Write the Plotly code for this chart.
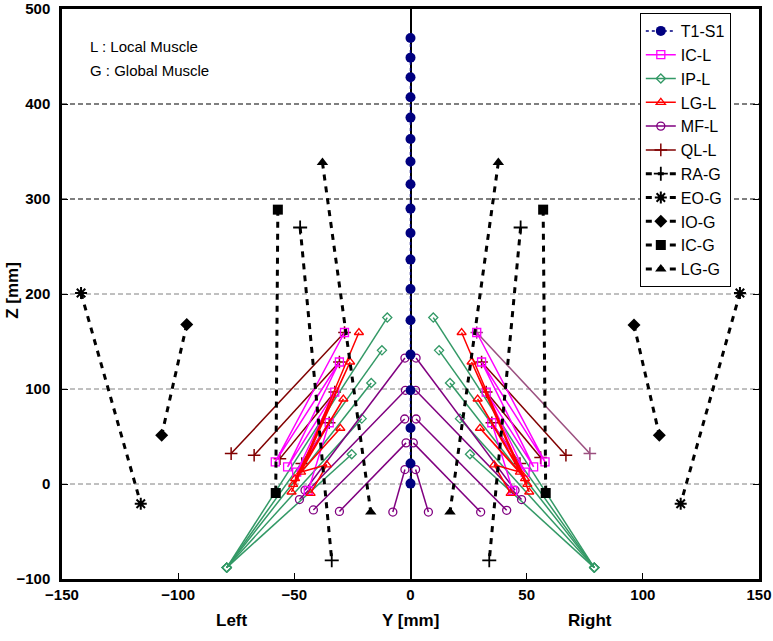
import plotly.graph_objects as go

# ---------------- data ----------------
# Spine T1-S1 (Y = 0)
T1S1_Y = [0] * 18
T1S1_Z = [469.5, 448.8, 428.1, 407.1, 385.7, 363.2, 339.4, 315.5, 289.9,
          264.2, 236.2, 205.3, 172.3, 136.2, 98.6, 58.9, 21.5, 0.4]

# IP-L (fan from a base point)
IPL_LEFT_TOP_Y = [-10.0, -12.3, -16.9, -21.0, -25.3]
IPL_LEFT_TOP_Z = [175.2, 140.7, 106.3, 68.8, 31.3]
IPL_LEFT_BASE = [-79.1, -88.0]
IPL_RIGHT_TOP_Y = [9.8, 12.3, 17.0, 21.3, 25.6]
IPL_RIGHT_TOP_Z = [175.2, 140.7, 106.3, 68.8, 31.3]
IPL_RIGHT_BASE = [79.1, -88.0]

# MF-L
MFL_LEFT_TOP_Y = [-2.4, -2.2, -2.5, -1.9, -2.4]
MFL_LEFT_TOP_Z = [132.6, 98.6, 68.4, 43.3, 15.2]
MFL_LEFT_BOT_Y = [-45.4, -47.8, -41.8, -30.6, -7.6]
MFL_LEFT_BOT_Z = [-6.6, -16.4, -27.3, -28.9, -29.5]
MFL_RIGHT_TOP_Y = [2.4, 2.2, 2.4, 1.2, 2.2]
MFL_RIGHT_TOP_Z = [132.6, 98.6, 68.4, 43.3, 15.2]
MFL_RIGHT_BOT_Y = [45.0, 47.8, 41.4, 30.2, 7.7]
MFL_RIGHT_BOT_Z = [-6.6, -16.4, -27.7, -29.5, -29.5]

# LG-L
LGL_LEFT_TOP_Y = [-22.2, -26.0, -28.9, -30.2, -36.0]
LGL_LEFT_TOP_Z = [159.5, 128.4, 89.5, 58.7, 20.2]
LGL_LEFT_BOT_Y = [-51.2, -50.5, -49.7, -47.1, -43.0]
LGL_LEFT_BOT_Z = [-8.4, -0.3, 5.7, 12.6, -9.8]
LGL_RIGHT_TOP_Y = [22.0, 26.3, 28.9, 29.9, 36.0]
LGL_RIGHT_TOP_Z = [159.5, 128.4, 89.5, 58.7, 20.2]
LGL_RIGHT_BOT_Y = [51.1, 50.3, 49.3, 47.1, 43.1]
LGL_RIGHT_BOT_Z = [-8.4, -0.3, 5.7, 12.6, -9.8]

# IC-L
ICL_LEFT_TOP_Y = [-28.4, -30.6, -32.6, -35.0]
ICL_LEFT_TOP_Z = [159.5, 128.4, 96.8, 64.5]
ICL_LEFT_BOT_Y = [-58.2, -52.9, -49.0, -44.0]
ICL_LEFT_BOT_Z = [23.2, 18.0, 12.6, -7.0]
ICL_RIGHT_TOP_Y = [28.5, 30.6, 32.6, 35.0]
ICL_RIGHT_TOP_Z = [159.5, 128.4, 96.8, 64.5]
ICL_RIGHT_BOT_Y = [57.9, 53.0, 49.3, 44.0]
ICL_RIGHT_BOT_Z = [23.2, 18.0, 12.6, -7.0]

# QL-L
QLL_LEFT_TOP_Y = [-28.4, -30.6, -32.6, -35.0]
QLL_LEFT_TOP_Z = [159.5, 128.4, 96.8, 64.5]
QLL_LEFT_BOT_Y = [-77.2, -67.3, -56.2, -46.8]
QLL_LEFT_BOT_Z = [32.0, 30.2, 26.7, 21.5]
QLL_RIGHT_TOP_Y = [30.6, 32.6, 35.0]
QLL_RIGHT_TOP_Z = [128.4, 96.8, 64.5]
QLL_RIGHT_BOT_Y = [66.9, 56.0, 47.1]
QLL_RIGHT_BOT_Z = [30.2, 27.8, 21.5]
QLL_RIGHT_OUTER_Y = [28.5, 77.2]
QLL_RIGHT_OUTER_Z = [159.5, 32.0]

# Global muscles: [left top, left bottom, right top, right bottom]
RAG_Y = [-47.5, -33.9, 47.4, 33.9]
RAG_Z = [270.0, -80.3, 270.0, -80.3]
EOG_Y = [-141.8, -116.1, 141.8, 116.3]
EOG_Z = [201.0, -20.7, 201.0, -20.7]
IOG_Y = [-96.3, -107.1, 96.2, 107.1]
IOG_Z = [168.0, 51.3, 167.5, 51.3]
ICG_Y = [-57.1, -58.0, 57.1, 58.2]
ICG_Z = [288.8, -9.5, 288.8, -9.5]
LGG_Y = [-37.9, -17.1, 37.8, 17.0]
LGG_Z = [338.3, -29.5, 338.3, -29.5]

X_TICKS = [-150, -100, -50, 0, 50, 100, 150]
Z_TICKS = [-100, 0, 100, 200, 300, 400, 500]
GRAY_GRID = [0, 100, 200]
BLACK_GRID = [300, 400]


# ---------------- helpers ----------------
def segments(ay, az, by, bz):
    xs, ys = [], []
    for a1, a2, b1, b2 in zip(ay, az, by, bz):
        xs += [a1, b1, None]
        ys += [a2, b2, None]
    return xs, ys


def zigzag(ay, az, by, bz):
    xs, ys = [], []
    for a1, a2, b1, b2 in zip(ay, az, by, bz):
        xs += [a1, b1]
        ys += [a2, b2]
    return xs, ys


def join(*parts):
    xs, ys = [], []
    for px, py in parts:
        if xs:
            xs.append(None)
            ys.append(None)
        xs += px
        ys += py
    return xs, ys


def pairs(yv, zv):
    return [yv[0], yv[1], None, yv[2], yv[3]], [zv[0], zv[1], None, zv[2], zv[3]]


NAVY = "#000080"
MAGENTA = "#FF00FF"
GREEN = "#339966"
RED = "#FF0000"
PURPLE = "#800080"
DKRED = "#800000"
MAUVE = "#9B4F7F"

fig = go.Figure()

n = len(IPL_LEFT_TOP_Y)
ipx, ipz = join(
    segments(IPL_LEFT_TOP_Y, IPL_LEFT_TOP_Z, [IPL_LEFT_BASE[0]] * n, [IPL_LEFT_BASE[1]] * n),
    segments(IPL_RIGHT_TOP_Y, IPL_RIGHT_TOP_Z, [IPL_RIGHT_BASE[0]] * n, [IPL_RIGHT_BASE[1]] * n),
)
mfx, mfz = join(
    segments(MFL_LEFT_TOP_Y, MFL_LEFT_TOP_Z, MFL_LEFT_BOT_Y, MFL_LEFT_BOT_Z),
    segments(MFL_RIGHT_TOP_Y, MFL_RIGHT_TOP_Z, MFL_RIGHT_BOT_Y, MFL_RIGHT_BOT_Z),
)
lgx, lgz = join(
    zigzag(LGL_LEFT_TOP_Y, LGL_LEFT_TOP_Z, LGL_LEFT_BOT_Y, LGL_LEFT_BOT_Z),
    zigzag(LGL_RIGHT_TOP_Y, LGL_RIGHT_TOP_Z, LGL_RIGHT_BOT_Y, LGL_RIGHT_BOT_Z),
)
icx, icz = join(
    zigzag(ICL_LEFT_TOP_Y, ICL_LEFT_TOP_Z, ICL_LEFT_BOT_Y, ICL_LEFT_BOT_Z),
    zigzag(ICL_RIGHT_TOP_Y, ICL_RIGHT_TOP_Z, ICL_RIGHT_BOT_Y, ICL_RIGHT_BOT_Z),
)
qlx, qlz = join(
    segments(QLL_LEFT_TOP_Y, QLL_LEFT_TOP_Z, QLL_LEFT_BOT_Y, QLL_LEFT_BOT_Z),
    segments(QLL_RIGHT_TOP_Y, QLL_RIGHT_TOP_Z, QLL_RIGHT_BOT_Y, QLL_RIGHT_BOT_Z),
)

dash_style = dict(color="black", width=3, dash="6px,6px")

fig.add_trace(go.Scatter(x=qlx, y=qlz, name="QL-L", legendrank=6, mode="lines+markers",
                         line=dict(color=DKRED, width=1.5),
                         marker=dict(symbol="cross-thin-open", size=9, line=dict(color=DKRED, width=1.5))))
fig.add_trace(go.Scatter(x=QLL_RIGHT_OUTER_Y, y=QLL_RIGHT_OUTER_Z, showlegend=False, mode="lines+markers",
                         line=dict(color=MAUVE, width=1.5),
                         marker=dict(symbol="cross-thin-open", size=9, line=dict(color=MAUVE, width=1.5))))
fig.add_trace(go.Scatter(x=ipx, y=ipz, name="IP-L", legendrank=3, mode="lines+markers",
                         line=dict(color=GREEN, width=1.5),
                         marker=dict(symbol="diamond-open", size=7, color=GREEN, line=dict(width=1.3))))
fig.add_trace(go.Scatter(x=mfx, y=mfz, name="MF-L", legendrank=5, mode="lines+markers",
                         line=dict(color=PURPLE, width=1.5),
                         marker=dict(symbol="circle-open", size=8, color=PURPLE, line=dict(width=1.3))))
fig.add_trace(go.Scatter(x=icx, y=icz, name="IC-L", legendrank=2, mode="lines+markers",
                         line=dict(color=MAGENTA, width=1.5),
                         marker=dict(symbol="square-open", size=8, color=MAGENTA, line=dict(width=1.3))))
fig.add_trace(go.Scatter(x=lgx, y=lgz, name="LG-L", legendrank=4, mode="lines+markers",
                         line=dict(color=RED, width=1.5),
                         marker=dict(symbol="triangle-up-open", size=8, color=RED, line=dict(width=1.3))))

gx, gz = pairs(RAG_Y, RAG_Z)
fig.add_trace(go.Scatter(x=gx, y=gz, name="RA-G", legendrank=7, mode="lines+markers", line=dash_style,
                         marker=dict(symbol="cross-thin-open", size=10, line=dict(color="black", width=1.8))))
gx, gz = pairs(EOG_Y, EOG_Z)
fig.add_trace(go.Scatter(x=gx, y=gz, name="EO-G", legendrank=8, mode="lines+markers", line=dash_style,
                         marker=dict(symbol="asterisk-open", size=10, line=dict(color="black", width=2))))
gx, gz = pairs(IOG_Y, IOG_Z)
fig.add_trace(go.Scatter(x=gx, y=gz, name="IO-G", legendrank=9, mode="lines+markers", line=dash_style,
                         marker=dict(symbol="diamond", size=10, color="black")))
gx, gz = pairs(ICG_Y, ICG_Z)
fig.add_trace(go.Scatter(x=gx, y=gz, name="IC-G", legendrank=10, mode="lines+markers", line=dash_style,
                         marker=dict(symbol="square", size=10, color="black")))
gx, gz = pairs(LGG_Y, LGG_Z)
fig.add_trace(go.Scatter(x=gx, y=gz, name="LG-G", legendrank=11, mode="lines+markers", line=dash_style,
                         marker=dict(symbol="triangle-up", size=10, color="black")))

# spine drawn last so its dots sit on top
fig.add_trace(go.Scatter(x=T1S1_Y, y=T1S1_Z, name="T1-S1", legendrank=1, mode="lines+markers",
                         line=dict(color=NAVY, width=1.5, dash="dot"),
                         marker=dict(symbol="circle", size=10, color=NAVY)))

shapes = []
for g in GRAY_GRID:
    shapes.append(dict(type="line", xref="paper", x0=0, x1=1, yref="y", y0=g, y1=g, layer="below",
                       line=dict(color="#808080", width=1, dash="5px,3px")))
for g in BLACK_GRID:
    shapes.append(dict(type="line", xref="paper", x0=0, x1=1, yref="y", y0=g, y1=g, layer="below",
                       line=dict(color="black", width=1.2, dash="5px,3px")))

FONT = "Liberation Sans Narrow, Arial Narrow, Liberation Sans, Arial, sans-serif"
ann_font = dict(family=FONT, size=17, color="black", weight="bold")

fig.update_layout(
    width=773, height=641,
    margin=dict(l=62, r=14, t=9, b=62),
    paper_bgcolor="white", plot_bgcolor="white",
    shapes=shapes,
    showlegend=True,
    legend=dict(x=0.829, y=0.993, xanchor="left", yanchor="top",
                bgcolor="white", bordercolor="black", borderwidth=1,
                font=dict(family="Liberation Sans Narrow, Arial Narrow, Arial, sans-serif", size=16, color="black"),
                tracegroupgap=0, itemwidth=30),
    xaxis=dict(range=[-150, 150], tickvals=X_TICKS, showgrid=False, automargin=False,
               zeroline=True, zerolinecolor="black", zerolinewidth=1.5,
               showline=True, linecolor="black", linewidth=2.5, mirror=True,
               ticks="inside", ticklen=6, tickcolor="black",
               tickfont=dict(family=FONT, size=15, color="black", weight="bold")),
    yaxis=dict(range=[-100, 500], tickvals=Z_TICKS, showgrid=False, zeroline=False, automargin=False,
               showline=True, linecolor="black", linewidth=2.5, mirror="ticks",
               ticks="inside", ticklen=6, tickcolor="black", ticklabelstandoff=6,
               tickfont=dict(family=FONT, size=15, color="black", weight="bold")),
    annotations=[
        dict(text="Z [mm]", xref="paper", yref="paper", x=-0.072, y=0.507, textangle=-90,
             showarrow=False, xanchor="center", yanchor="middle", font=ann_font),
        dict(text="Y [mm]", xref="x", yref="paper", x=0, y=-0.073, showarrow=False,
             xanchor="center", yanchor="middle", font=ann_font),
        dict(text="Left", xref="x", yref="paper", x=-76.8, y=-0.073, showarrow=False,
             xanchor="center", yanchor="middle", font=ann_font),
        dict(text="Right", xref="x", yref="paper", x=77.2, y=-0.073, showarrow=False,
             xanchor="center", yanchor="middle", font=ann_font),
        dict(text="L : Local Muscle", xref="paper", yref="paper", x=0.037, y=0.935, showarrow=False,
             xanchor="left", yanchor="middle",
             font=dict(family="Liberation Sans, Arial, sans-serif", size=15, color="black")),
        dict(text="G : Global Muscle", xref="paper", yref="paper", x=0.037, y=0.892, showarrow=False,
             xanchor="left", yanchor="middle",
             font=dict(family="Liberation Sans, Arial, sans-serif", size=15, color="black")),
    ],
)

fig.write_html("out.html", config={"displayModeBar": False},
               post_script="document.body.style.margin='0';document.body.style.overflow='hidden';")
